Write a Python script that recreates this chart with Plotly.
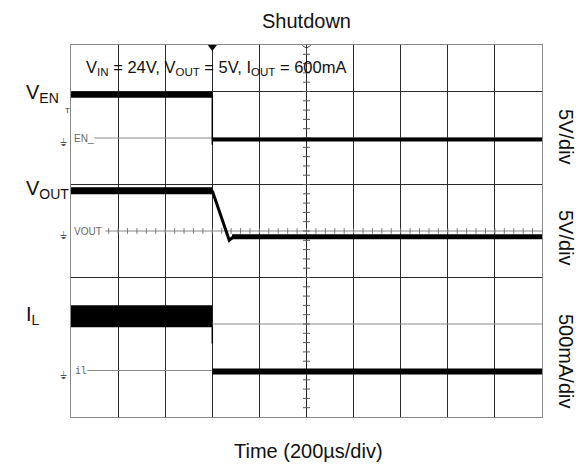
import plotly.graph_objects as go

W, H = 583, 466
ML, MR, MT, MB = 71, 41, 45, 49

# Horizontal: time relative to trigger (µs), 200 µs/div, 10 divisions
T_MIN, T_MAX, T_DIV = -600, 1400, 200
# Vertical: screen divisions, 8 in total
Y_MIN, Y_MAX = -4, 4

# Channel settings: scale per division and reference position (div)
EN_SCALE, EN_REF = 5.0, 2.0        # V/div
VOUT_SCALE, VOUT_REF = 5.0, 0.0    # V/div
IL_SCALE, IL_REF = 500.0, -3.0     # mA/div

# V_EN (V)
en_on_t, en_on_v = [-600, 0], [4.66, 4.66]
en_edge_t, en_edge_v = [0, 0], [4.66, -0.72]
en_off_t, en_off_v = [0, 1400], [-0.15, -0.15]

# V_OUT (V)
vout_on_t, vout_on_v = [-600, 0], [4.32, 4.32]
vout_fall_t, vout_fall_v = [0, 72, 90], [4.32, -0.99, -0.62]
vout_off_t, vout_off_v = [84, 1400], [-0.62, -0.62]

# I_L (mA)
il_on_t, il_on_v = [-600, 0], [583, 583]
il_edge_t, il_edge_v = [0, 0], [466, 290]
il_off_t, il_off_v = [0, 1400], [-11, -11]

# Text
title_text = "Shutdown"
xlabel_text = "Time (200µs/div)"
cond_text = "V<sub>IN</sub> = 24V, V<sub>OUT</sub> = 5V, I<sub>OUT</sub> = 600mA"
ch_names = ["V<sub>EN</sub>", "V<sub>OUT</sub>", "I<sub>L</sub>"]
ch_scales = ["5V/div", "5V/div", "500mA/div"]
ch_tags = ["EN_", "VOUT", "il"]

FONT = "Liberation Sans, Arial, sans-serif"


def px_x(p):
    return (p - ML) / (W - ML - MR)


def px_y(p):
    return (H - MB - p) / (H - MT - MB)


def t_at(p):
    return T_MIN + (p - 70.7) / 47.1 * T_DIV


def div(vals, scale, ref):
    return [ref + v / scale for v in vals]


fig = go.Figure()


def band(t, v, scale, ref, width):
    fig.add_trace(go.Scatter(
        x=t, y=div(v, scale, ref), mode="lines",
        line=dict(color="black", width=width), hoverinfo="skip"))


# Center graticule ticks
h_ticks = [t for t in range(-440, 1400, 40)]
fig.add_trace(go.Scatter(
    x=h_ticks, y=[0] * len(h_ticks), mode="markers",
    marker=dict(symbol="line-ns", size=4, color="#777",
                line=dict(color="#777", width=1)),
    hoverinfo="skip"))
v_ticks = [round(-3.8 + 0.2 * i, 2) for i in range(39)]
fig.add_trace(go.Scatter(
    x=[400] * len(v_ticks), y=v_ticks, mode="markers",
    marker=dict(symbol="line-ew", size=5, color="#555",
                line=dict(color="#555", width=1)),
    hoverinfo="skip"))

# Waveforms
band(en_on_t, en_on_v, EN_SCALE, EN_REF, 6)
band(en_edge_t, en_edge_v, EN_SCALE, EN_REF, 1.5)
band(en_off_t, en_off_v, EN_SCALE, EN_REF, 4)

band(vout_on_t, vout_on_v, VOUT_SCALE, VOUT_REF, 7)
band(vout_fall_t, vout_fall_v, VOUT_SCALE, VOUT_REF, 3)
band(vout_off_t, vout_off_v, VOUT_SCALE, VOUT_REF, 5)

band(il_on_t, il_on_v, IL_SCALE, IL_REF, 22)
band(il_edge_t, il_edge_v, IL_SCALE, IL_REF, 1.5)
band(il_off_t, il_off_v, IL_SCALE, IL_REF, 6)

# Trigger position / delay markers on the top edge, channel markers on the left
fig.add_trace(go.Scatter(
    x=[0], y=[3.955], mode="markers", cliponaxis=False,
    marker=dict(symbol="triangle-down", size=8, color="black"), hoverinfo="skip"))
fig.add_trace(go.Scatter(
    x=[400], y=[3.93], mode="markers", cliponaxis=False,
    marker=dict(symbol="y-down-open", size=7, color="#444",
                line=dict(color="#444", width=1)),
    hoverinfo="skip"))
fig.add_trace(go.Scatter(
    x=[t_at(67.5)] * 4, y=[2.45, EN_REF, VOUT_REF, IL_REF], mode="markers",
    cliponaxis=False,
    marker=dict(symbol="triangle-right", size=5, color="black"), hoverinfo="skip"))

shapes = []
# Gray reference lines and the lighter grid line
for ref, start_px in [(EN_REF, 94), (VOUT_REF, 105), (IL_REF, 87)]:
    shapes.append(dict(type="line", xref="x", yref="y", x0=t_at(start_px), x1=T_MAX,
                       y0=ref, y1=ref, layer="between",
                       line=dict(color="#8a8a8a", width=1)))
shapes.append(dict(type="line", xref="x", yref="y", x0=T_MIN, x1=T_MAX, y0=-2, y1=-2,
                   layer="between", line=dict(color="#8a8a8a", width=1)))

annotations = [
    dict(text=title_text, x=px_x(306), y=px_y(21), xref="paper", yref="paper",
         showarrow=False, xanchor="center", yanchor="middle",
         font=dict(family=FONT, size=20, color="#111")),
    dict(text=xlabel_text, x=px_x(308), y=px_y(451), xref="paper", yref="paper",
         showarrow=False, xanchor="center", yanchor="middle",
         font=dict(family=FONT, size=20, color="#111")),
    dict(text=cond_text, x=px_x(84), y=px_y(68), xref="paper", yref="paper",
         showarrow=False, xanchor="left", yanchor="middle",
         font=dict(family=FONT, size=16.5, color="#111")),
    dict(text="T", x=px_x(67), y=px_y(111), xref="paper", yref="paper",
         showarrow=False, xanchor="center", yanchor="middle",
         font=dict(family=FONT, size=8, color="#333")),
]
for name, ypx in zip(ch_names, [93, 189, 315]):
    annotations.append(dict(text=name, x=px_x(24), y=px_y(ypx), xref="paper",
                            yref="paper", showarrow=False, xanchor="left",
                            yanchor="middle",
                            font=dict(family=FONT, size=20, color="#111")))
for lab, ypx in zip(ch_scales, [137, 238, 361]):
    annotations.append(dict(text=lab, x=px_x(566), y=px_y(ypx), xref="paper",
                            yref="paper", showarrow=False, textangle=90,
                            xanchor="center", yanchor="middle",
                            font=dict(family=FONT, size=20, color="#111")))
for tag, ref, xpx in zip(ch_tags, [EN_REF, VOUT_REF, IL_REF], [72, 72, 73]):
    annotations.append(dict(text=tag, x=px_x(xpx), y=ref, xref="paper", yref="y",
                            showarrow=False, xanchor="left", yanchor="middle",
                            font=dict(family="DejaVu Sans Mono, monospace" if tag == "il"
                                      else FONT, size=10, color="#666")))
    annotations.append(dict(text="⏚", x=px_x(63), y=ref - 0.1, xref="paper", yref="y",
                            showarrow=False, xanchor="center", yanchor="middle",
                            font=dict(family="DejaVu Sans", size=10, color="#555")))

fig.update_layout(
    width=W, height=H,
    margin=dict(l=ML, r=MR, t=MT, b=MB, pad=0),
    paper_bgcolor="white", plot_bgcolor="white",
    showlegend=False,
    shapes=shapes, annotations=annotations,
    xaxis=dict(range=[T_MIN, T_MAX], tickvals=list(range(-400, 1400, 200)),
               showgrid=True, gridcolor="#2a2a2a", gridwidth=1,
               showticklabels=False, ticks="", zeroline=False,
               showline=True, linecolor="#8a8a8a", linewidth=1, mirror=True,
               fixedrange=True),
    yaxis=dict(range=[Y_MIN, Y_MAX], tickvals=[3, 1, -1],
               showgrid=True, gridcolor="#2a2a2a", gridwidth=1,
               showticklabels=False, ticks="", zeroline=False,
               showline=True, linecolor="#8a8a8a", linewidth=1, mirror=True,
               fixedrange=True),
)

fig.write_html("out.html")
